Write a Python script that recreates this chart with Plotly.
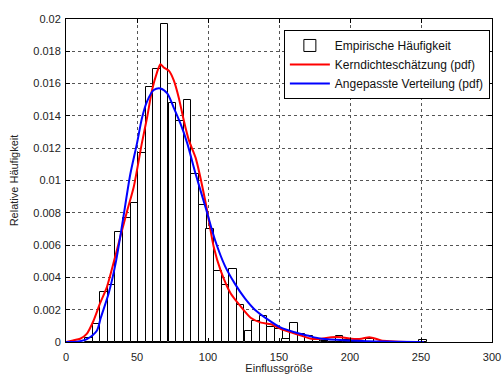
import plotly.graph_objects as go

# Histogram (bin centers and relative frequencies)
bin_centers = [16.0, 21.4, 26.7, 32.1, 37.4, 42.8, 48.1, 53.5, 58.8, 64.2,
               69.5, 74.9, 80.2, 85.6, 90.9, 96.3, 101.6, 107.0, 112.3, 117.7,
               123.0, 128.4, 133.7, 139.1, 144.4, 149.8, 155.1, 160.5, 165.8, 171.2,
               176.5, 181.9, 187.2, 192.6, 197.9, 203.3, 208.6, 214.0, 219.3, 224.7,
               230.0, 235.4, 240.7, 246.1, 251.4]
bin_width = 5.35
rel_freq = [0.00025, 0.0011, 0.0031, 0.0035, 0.0068, 0.0077, 0.0086, 0.0117, 0.0158, 0.0169,
            0.0197, 0.0148, 0.0137, 0.0150, 0.0104, 0.0085, 0.0070, 0.0044, 0.0035, 0.0045,
            0.0023, 0.0007, 0.0013, 0.0016, 0.0009, 0.0008, 0.0002, 0.0012, 0.0005, 0.0004,
            0.0002, 0.00005, 0.0001, 0.0004, 0.0001, 0.0, 0.0, 0.0002, 0.0, 0.0,
            0.0, 0.0, 0.0, 0.0, 0.0001]

# Kernel density estimate (red)
kde_x = [0, 5, 10, 14.6, 19.3, 24, 28.8, 33.5, 38.2, 43, 47.7, 53.4, 57.1, 60.6, 64.1,
         66.5, 68.8, 72.4, 75.9, 79.5, 83, 86.5, 91.3, 98.4, 104, 109, 116, 123, 130,
         137.3, 144.4, 151.5, 158.5, 165.6, 172.7, 179.8, 186.8, 193.9, 201, 208, 213.7,
         222, 228, 240, 252]
kde_y = [0.0, 0.0001, 0.0002, 0.0005, 0.0013, 0.0024, 0.0034, 0.0049, 0.0065, 0.0081,
         0.0096, 0.0123, 0.0139, 0.0156, 0.0167, 0.0172, 0.0170, 0.0168, 0.0162, 0.0151,
         0.0137, 0.0125, 0.0114, 0.0086, 0.0059, 0.0044, 0.0030, 0.0022, 0.0015, 0.0012,
         0.0011, 0.0008, 0.0006, 0.0004, 0.0002, 0.0002, 0.0003, 0.0003, 0.0002, 0.0002,
         0.0003, 0.0001, 0.00005, 0.0, 0.0]

# Fitted distribution (blue)
fit_x = [0, 5, 10, 15, 21.7, 24.5, 30, 35, 40, 45.3, 50, 53.6, 57.1, 61.8, 66.5, 71.3,
         75.9, 80.7, 85.4, 91.3, 98.4, 105, 112, 119, 126, 133, 142, 151, 161, 170, 180,
         200, 225, 252]
fit_y = [0.0, 0.0, 0.00005, 0.0002, 0.0007, 0.0015, 0.0030, 0.0049, 0.0075, 0.0104,
         0.0123, 0.0139, 0.0149, 0.0156, 0.0157, 0.0154, 0.0145, 0.0135, 0.0123, 0.0104,
         0.0083, 0.0063, 0.0047, 0.0036, 0.0027, 0.0020, 0.0014, 0.0009, 0.0006, 0.0004,
         0.0002, 0.0001, 0.00003, 0.0]

x_ticks = [0, 50, 100, 150, 200, 250, 300]
y_ticks = [0, 0.002, 0.004, 0.006, 0.008, 0.01, 0.012, 0.014, 0.016, 0.018, 0.02]
y_tick_text = ["0", "0.002", "0.004", "0.006", "0.008", "0.01", "0.012", "0.014",
               "0.016", "0.018", "0.02"]

FONT = "Liberation Sans, Arial, sans-serif"

fig = go.Figure()
fig.add_trace(go.Bar(
    x=bin_centers, y=rel_freq, width=bin_width,
    marker=dict(color="white", line=dict(color="black", width=1)),
    name="Empirische Häufigkeit",
))
fig.add_trace(go.Scatter(
    x=kde_x, y=kde_y, mode="lines",
    line=dict(color="#ff0000", width=2, shape="spline", smoothing=0.6),
    name="Kerndichteschätzung (pdf)",
))
fig.add_trace(go.Scatter(
    x=fit_x, y=fit_y, mode="lines",
    line=dict(color="#0000ff", width=2, shape="spline", smoothing=0.8),
    name="Angepasste Verteilung (pdf)",
))

axis_common = dict(
    showline=True, linecolor="black", linewidth=1, mirror="ticks",
    ticks="inside", ticklen=4, tickcolor="black",
    showgrid=True, gridcolor="#555555", griddash="dot", gridwidth=1,
    zeroline=False, automargin=False,
    tickfont=dict(family=FONT, size=11, color="#222222"),
)

fig.update_layout(
    width=504, height=374,
    margin=dict(l=66, r=12, t=19, b=32),
    paper_bgcolor="white", plot_bgcolor="white",
    font=dict(family=FONT, size=11, color="#222222"),
    bargap=0,
    showlegend=True,
    legend=dict(
        x=0.995, y=0.966, xanchor="right", yanchor="top",
        bgcolor="white", bordercolor="black", borderwidth=1,
        font=dict(family=FONT, size=12, color="#111111"),
        itemwidth=40, tracegroupgap=0,
    ),
    xaxis=dict(range=[0, 300], tickvals=x_ticks, ticklabelstandoff=5,
               title=dict(text="Einflussgröße", standoff=1,
                          font=dict(family=FONT, size=11, color="#222222")),
               **axis_common),
    yaxis=dict(range=[0, 0.02], tickvals=y_ticks, ticktext=y_tick_text,
               ticklabelstandoff=2,
               title=dict(text="Relative Häufigkeit", standoff=12,
                          font=dict(family=FONT, size=11, color="#222222")),
               **axis_common),
)

fig.write_html("out.html")
